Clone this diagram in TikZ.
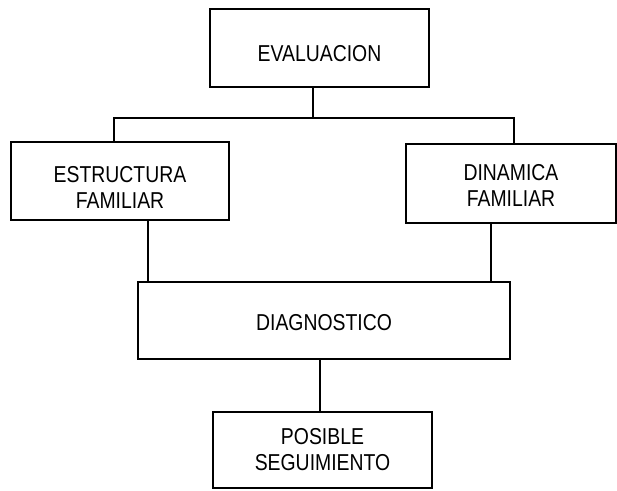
\documentclass[tikz,border=0pt]{standalone}
\usepackage{fontspec}
\usepackage{graphicx}
\setmainfont{Liberation Sans}
\newcommand{\boxtext}[2]{\raisebox{-#1pt}[\height][\depth]{\scalebox{0.97}[1.15]{\begin{tabular}{@{}c@{}}#2\end{tabular}}}}
\begin{document}
\begin{tikzpicture}[x=1pt,y=-1pt,
  box/.style={draw=black,line width=1.3pt,inner sep=0pt,align=center,
    font=\fontsize{20}{22.5}\selectfont},
  link/.style={draw=black,line width=1.3pt}]
\useasboundingbox (0,0) rectangle (617,490);
\fill[white] (0,0) rectangle (617,490);
\node[box,minimum width=219pt,minimum height=78pt] (eval) at (319.5,48) {\boxtext{8}{EVALUACION}};
\node[box,minimum width=218pt,minimum height=78pt] (estr) at (120,181) {\boxtext{9}{ESTRUCTURA\\FAMILIAR}};
\node[box,minimum width=210pt,minimum height=79pt] (din) at (511,183.5) {\boxtext{5}{DINAMICA\\FAMILIAR}};
\node[box,minimum width=372pt,minimum height=77pt] (diag) at (324,320.5) {\boxtext{5}{DIAGNOSTICO}};
\node[box,minimum width=219pt,minimum height=76pt] (pos) at (322.5,450) {\boxtext{2}{POSIBLE\\SEGUIMIENTO}};
\coordinate (br) at (313,118);
\coordinate (bl) at (114,118);
\coordinate (brr) at (514,118);
\coordinate (dl) at (148,250);
\coordinate (dr) at (491,250);
\coordinate (pc) at (320,390);
\draw[link] (br |- eval.south) -- (br);
\draw[link] (bl |- estr.north) -- (bl) -- (brr) -- (brr |- din.north);
\draw[link] (dl |- estr.south) -- (dl |- diag.north);
\draw[link] (dr |- din.south) -- (dr |- diag.north);
\draw[link] (pc |- diag.south) -- (pc |- pos.north);
\end{tikzpicture}
\end{document}
